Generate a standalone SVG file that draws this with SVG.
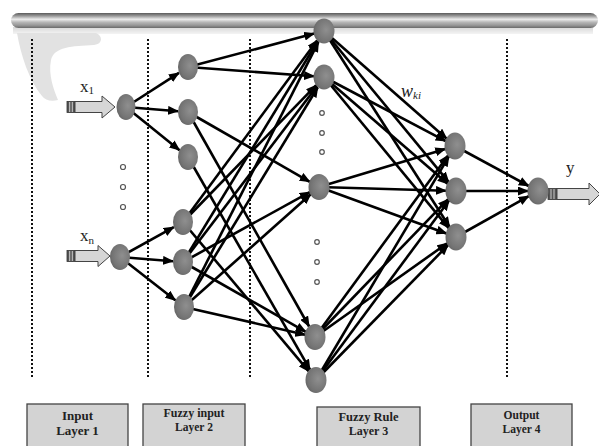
<svg xmlns="http://www.w3.org/2000/svg" width="599" height="446" viewBox="0 0 599 446">
  <defs>
    <linearGradient id="barGrad" x1="0" y1="0" x2="0" y2="1">
      <stop offset="0" stop-color="#5a5a5a"/>
      <stop offset="0.2" stop-color="#9a9a9a"/>
      <stop offset="0.42" stop-color="#ececec"/>
      <stop offset="0.62" stop-color="#b6b6b6"/>
      <stop offset="0.82" stop-color="#979797"/>
      <stop offset="1" stop-color="#6a6a6a"/>
    </linearGradient>
    <linearGradient id="shadeGrad" x1="0" y1="0" x2="0" y2="1">
      <stop offset="0" stop-color="#d8d8d8"/>
      <stop offset="1" stop-color="#f4f4f4"/>
    </linearGradient>
    <radialGradient id="nodeGrad" cx="0.6" cy="0.45" r="0.7">
      <stop offset="0" stop-color="#8f8f8f"/>
      <stop offset="0.7" stop-color="#737373"/>
      <stop offset="1" stop-color="#5c5c5c"/>
    </radialGradient>
    <marker id="ah" markerWidth="11" markerHeight="9" refX="10" refY="4.5" orient="auto" markerUnits="userSpaceOnUse">
      <path d="M0,0 L11,4.5 L0,9 Z" fill="#000"/>
    </marker>
  </defs>
  <style>
    .node { fill: url(#nodeGrad); }
    .edge { stroke: #000; stroke-width: 2.6; fill: none; marker-end: url(#ah); }
    .sep { stroke: #111; stroke-width: 2; stroke-dasharray: 2 2; }
    .dot { fill: #fff; stroke: #555; stroke-width: 1.2; }
    .box { fill: #d3d3d3; stroke: #444; stroke-width: 1.3; }
    .boxtxt { font-family: "Liberation Serif", "Times New Roman", serif; font-weight: bold; fill: #222; text-anchor: middle; }
    .lbl { font-family: "Liberation Serif", "Times New Roman", serif; fill: #222; }
    .arrowBody { fill: #d6d6d6; stroke: #444; stroke-width: 1; }
    .stripe { fill: #555; stroke: #333; stroke-width: 0.8; }
  </style>

  <rect width="599" height="446" fill="#fff"/>

  <!-- header bar with soft shading below -->
  <rect x="13" y="27" width="580" height="7" fill="url(#shadeGrad)"/>
  <path d="M17,33 L96,33 C103,36 103,44 94,45 C72,46 54,47 51,60 C48,75 54,90 58,100 C51,102 45,100 42,96 C29,80 21,56 17,33 Z" fill="#e2e2e2"/>
  <rect x="11" y="13" width="587" height="15" rx="7.5" fill="url(#barGrad)"/>

  <!-- layer separators -->
  <line class="sep" x1="32" y1="39" x2="32" y2="378"/>
  <line class="sep" x1="148" y1="39" x2="148" y2="378"/>
  <line class="sep" x1="250" y1="39" x2="250" y2="378"/>
  <line class="sep" x1="507" y1="39" x2="507" y2="378"/>

  <!-- connectors -->
  <g id="connectors">
    <!-- inputs to membership nodes -->
    <line class="edge" x1="126" y1="107" x2="179" y2="72.8"/>
    <line class="edge" x1="126" y1="107" x2="178" y2="111.2"/>
    <line class="edge" x1="126" y1="107" x2="179.5" y2="150.2"/>
    <line class="edge" x1="120" y1="257" x2="173.8" y2="227.1"/>
    <line class="edge" x1="120" y1="257" x2="173" y2="261.2"/>
    <line class="edge" x1="120" y1="257" x2="175.4" y2="300.3"/>
    <!-- membership nodes to rule nodes -->
    <line class="edge" x1="188" y1="67" x2="314.2" y2="33.6"/>
    <line class="edge" x1="188" y1="67" x2="314" y2="76.3"/>
    <line class="edge" x1="188" y1="112" x2="309.8" y2="181.8"/>
    <line class="edge" x1="188" y1="112" x2="309.1" y2="326.5"/>
    <line class="edge" x1="188" y1="157" x2="310" y2="369.6"/>
    <line class="edge" x1="183" y1="222" x2="317.1" y2="40.4"/>
    <line class="edge" x1="183" y1="222" x2="316.2" y2="85.1"/>
    <line class="edge" x1="183" y1="222" x2="308.6" y2="371.2"/>
    <line class="edge" x1="183" y1="262" x2="317.8" y2="41.2"/>
    <line class="edge" x1="183" y1="262" x2="317" y2="86.2"/>
    <line class="edge" x1="183" y1="262" x2="309.8" y2="192.1"/>
    <line class="edge" x1="183" y1="262" x2="305.8" y2="331.8"/>
    <line class="edge" x1="184" y1="307" x2="318.5" y2="41.9"/>
    <line class="edge" x1="184" y1="307" x2="317.8" y2="87.2"/>
    <line class="edge" x1="184" y1="307" x2="310.7" y2="194.3"/>
    <line class="edge" x1="184" y1="307" x2="305.2" y2="334.7"/>
    <!-- rule nodes to normalisation nodes -->
    <line class="edge" x1="324" y1="31" x2="446.7" y2="138.7"/>
    <line class="edge" x1="324" y1="31" x2="448.7" y2="182.1"/>
    <line class="edge" x1="324" y1="31" x2="449.6" y2="227"/>
    <line class="edge" x1="324" y1="77" x2="445.7" y2="141.1"/>
    <line class="edge" x1="324" y1="77" x2="447.7" y2="183.8"/>
    <line class="edge" x1="324" y1="77" x2="448.7" y2="228.1"/>
    <line class="edge" x1="319" y1="187" x2="445.3" y2="148.9"/>
    <line class="edge" x1="319" y1="187" x2="446" y2="190.7"/>
    <line class="edge" x1="319" y1="187" x2="446.4" y2="233.5"/>
    <line class="edge" x1="315" y1="337" x2="448.1" y2="155.4"/>
    <line class="edge" x1="315" y1="337" x2="448.2" y2="199.1"/>
    <line class="edge" x1="315" y1="337" x2="447.2" y2="243.2"/>
    <line class="edge" x1="316" y1="380" x2="448.9" y2="156.3"/>
    <line class="edge" x1="316" y1="380" x2="449.1" y2="200.4"/>
    <line class="edge" x1="316" y1="380" x2="448.1" y2="245"/>
    <!-- to output node -->
    <line class="edge" x1="455" y1="146" x2="528.8" y2="186"/>
    <line class="edge" x1="456" y1="191" x2="528" y2="191" stroke-width="3.2"/>
    <line class="edge" x1="456" y1="237" x2="528.8" y2="196.1"/>
  </g>

  <!-- input layer -->
  <g id="input-x1">
    <rect class="stripe" x="67" y="101.5" width="8" height="11"/>
    <line x1="69.7" y1="102" x2="69.7" y2="112" stroke="#ccc" stroke-width="1"/>
    <line x1="72.3" y1="102" x2="72.3" y2="112" stroke="#ccc" stroke-width="1"/>
    <polygon class="arrowBody" points="75,101.5 102,101.5 102,96 115,107 102,118 102,112.5 75,112.5"/>
    <text class="lbl" x="80" y="91.5" font-size="17">x<tspan font-size="11" dy="2.5">1</tspan></text>
    <ellipse class="node" cx="126" cy="107" rx="9.5" ry="13"/>
  </g>
  <g id="input-xn">
    <rect class="stripe" x="67" y="250.5" width="8" height="11"/>
    <line x1="69.7" y1="251" x2="69.7" y2="261" stroke="#ccc" stroke-width="1"/>
    <line x1="72.3" y1="251" x2="72.3" y2="261" stroke="#ccc" stroke-width="1"/>
    <polygon class="arrowBody" points="75,250.5 98,250.5 98,245.5 110,256 98,266.5 98,261.5 75,261.5"/>
    <text class="lbl" x="80" y="241" font-size="17">x<tspan font-size="11" dy="3">n</tspan></text>
    <ellipse class="node" cx="120" cy="257" rx="10" ry="13"/>
  </g>
  <g id="input-dots">
    <circle class="dot" cx="123" cy="167" r="2.5"/>
    <circle class="dot" cx="123" cy="187" r="2.5"/>
    <circle class="dot" cx="123" cy="207" r="2.5"/>
  </g>

  <!-- fuzzy input layer -->
  <g id="mf-1"><ellipse class="node" cx="188" cy="67" rx="10" ry="13"/></g>
  <g id="mf-2"><ellipse class="node" cx="188" cy="112" rx="10" ry="13"/></g>
  <g id="mf-3"><ellipse class="node" cx="188" cy="157" rx="10" ry="13"/></g>
  <g id="mf-4"><ellipse class="node" cx="183" cy="222" rx="10" ry="13"/></g>
  <g id="mf-5"><ellipse class="node" cx="183" cy="262" rx="10" ry="13"/></g>
  <g id="mf-6"><ellipse class="node" cx="184" cy="307" rx="10" ry="13"/></g>

  <!-- fuzzy rule layer -->
  <g id="rule-1"><ellipse class="node" cx="324" cy="31" rx="10.5" ry="12.5"/></g>
  <g id="rule-2"><ellipse class="node" cx="324" cy="77" rx="10.5" ry="12.5"/></g>
  <g id="rule-3"><ellipse class="node" cx="319" cy="187" rx="10.5" ry="13"/></g>
  <g id="rule-4"><ellipse class="node" cx="315" cy="337" rx="10.5" ry="13"/></g>
  <g id="rule-5"><ellipse class="node" cx="316" cy="380" rx="10.5" ry="13"/></g>
  <g id="rule-dots">
    <circle class="dot" cx="322" cy="113" r="2.3"/>
    <circle class="dot" cx="322" cy="133" r="2.3"/>
    <circle class="dot" cx="322" cy="152" r="2.3"/>
    <circle class="dot" cx="317" cy="242" r="2.3"/>
    <circle class="dot" cx="317" cy="262" r="2.3"/>
    <circle class="dot" cx="317" cy="282" r="2.3"/>
  </g>
  <g id="weight-label">
    <text class="lbl" x="401" y="97" font-size="18" font-style="italic">w<tspan font-size="11" dy="1.5">ki</tspan></text>
  </g>

  <!-- third hidden layer -->
  <g id="norm-1"><ellipse class="node" cx="455" cy="146" rx="10.5" ry="13.5"/></g>
  <g id="norm-2"><ellipse class="node" cx="456" cy="191" rx="10.5" ry="13.5"/></g>
  <g id="norm-3"><ellipse class="node" cx="456" cy="237" rx="10.5" ry="13.5"/></g>

  <!-- output layer -->
  <g id="output-y">
    <rect class="stripe" x="548" y="188.5" width="9" height="11"/>
    <line x1="551" y1="189" x2="551" y2="199" stroke="#ccc" stroke-width="1"/>
    <line x1="554" y1="189" x2="554" y2="199" stroke="#ccc" stroke-width="1"/>
    <polygon class="arrowBody" points="557,188.5 589,188.5 589,183 600,194 589,205 589,199.5 557,199.5"/>
    <ellipse class="node" cx="538" cy="191" rx="10.5" ry="13.5"/>
    <text class="lbl" x="566" y="173" font-size="17">y</text>
  </g>

  <!-- layer captions -->
  <g id="caption-1">
    <rect class="box" x="27" y="404" width="101" height="50"/>
    <text class="boxtxt" x="77.5" y="420" font-size="13">Input</text>
    <text class="boxtxt" x="77.5" y="435" font-size="13">Layer 1</text>
  </g>
  <g id="caption-2">
    <rect class="box" x="143" y="404" width="102" height="50"/>
    <text class="boxtxt" x="194" y="417" font-size="12">Fuzzy input</text>
    <text class="boxtxt" x="194" y="431" font-size="11.5">Layer 2</text>
  </g>
  <g id="caption-3">
    <rect class="box" x="317" y="407" width="103" height="50"/>
    <text class="boxtxt" x="368.5" y="421" font-size="12.5">Fuzzy Rule</text>
    <text class="boxtxt" x="368.5" y="435" font-size="12">Layer 3</text>
  </g>
  <g id="caption-4">
    <rect class="box" x="471" y="404" width="101" height="50"/>
    <text class="boxtxt" x="521.5" y="419" font-size="11.5">Output</text>
    <text class="boxtxt" x="521.5" y="432.5" font-size="11.5">Layer 4</text>
  </g>
</svg>
